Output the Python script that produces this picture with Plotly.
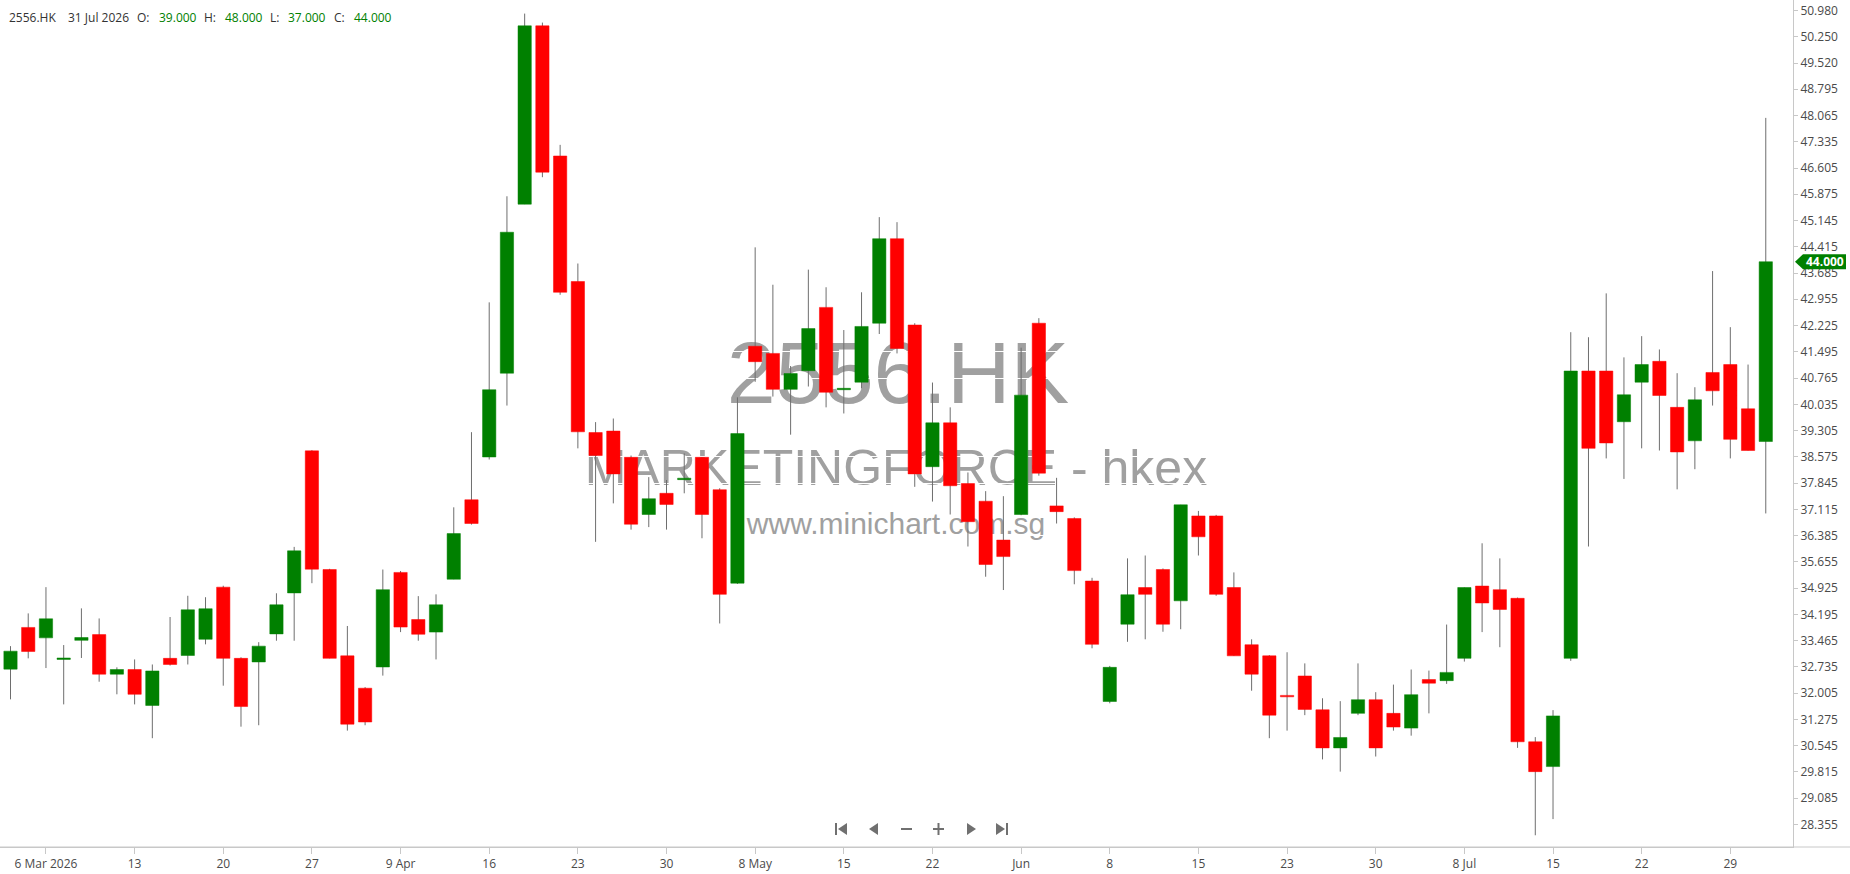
import plotly.graph_objects as go

# ---------------- data ----------------
opens = [32.67, 33.83, 33.54, 32.96, 33.47, 33.63, 32.53, 32.66, 31.66, 32.97,
         33.05, 33.50, 34.95, 32.97, 32.87, 33.65, 34.79, 38.74, 35.44, 33.04,
         32.14, 32.73, 35.36, 34.05, 33.70, 35.17, 37.38, 38.57, 40.90, 45.60,
         50.56, 46.94, 43.45, 39.25, 39.29, 38.56, 36.97, 37.56, 37.96, 38.56,
         37.66, 35.06, 41.65, 41.45, 40.45, 40.97, 42.73, 40.46, 40.65, 42.29,
         44.64, 42.24, 38.30, 39.52, 37.83, 37.34, 36.26, 36.97, 42.29, 37.21,
         36.86, 35.12, 31.77, 33.92, 34.94, 35.44, 34.57, 36.93, 36.93, 34.94,
         33.35, 33.04, 31.93, 32.48, 31.54, 30.48, 31.44, 31.82, 31.44, 31.03,
         32.38, 32.35, 32.97, 34.98, 34.88, 34.64, 30.65, 29.96, 32.97, 40.96,
         40.96, 39.55, 40.65, 41.23, 39.95, 39.02, 40.92, 41.14, 39.91, 39.00]
highs = [33.31, 34.22, 34.95, 33.34, 34.36, 34.08, 32.72, 32.94, 32.80, 34.12,
         34.71, 34.67, 34.99, 33.00, 33.42, 34.78, 36.07, 38.76, 35.46, 33.87,
         32.17, 35.44, 35.40, 34.70, 34.75, 37.17, 39.26, 42.87, 45.82, 50.90,
         50.65, 47.25, 43.95, 39.54, 39.64, 38.61, 38.01, 37.93, 38.67, 38.56,
         37.70, 40.23, 44.40, 43.36, 41.10, 43.78, 43.29, 42.10, 43.15, 45.24,
         45.10, 42.29, 40.64, 39.95, 38.14, 37.62, 37.48, 41.61, 42.43, 37.99,
         36.89, 35.21, 32.76, 35.75, 35.83, 35.47, 37.24, 37.07, 36.96, 35.36,
         33.50, 33.06, 33.14, 32.83, 31.86, 31.78, 32.83, 32.03, 32.24, 32.66,
         32.63, 33.91, 34.94, 36.17, 35.75, 34.66, 30.78, 31.53, 42.04, 41.90,
         43.12, 41.34, 41.93, 41.56, 40.90, 40.51, 43.74, 42.18, 41.14, 48.00]
lows = [31.83, 32.97, 32.70, 31.69, 32.98, 32.32, 31.97, 31.69, 30.75, 32.77,
        32.80, 33.36, 32.21, 31.07, 31.11, 33.46, 33.46, 35.06, 32.97, 30.96,
        31.11, 32.49, 33.70, 33.46, 32.94, 35.17, 36.69, 38.50, 40.00, 45.60,
        46.35, 43.08, 38.81, 36.21, 37.28, 36.55, 36.62, 36.55, 37.56, 36.31,
        33.94, 35.04, 40.66, 40.25, 39.19, 40.53, 39.95, 39.78, 40.48, 41.99,
        41.45, 37.74, 37.33, 36.97, 36.08, 35.24, 34.87, 36.95, 38.05, 36.72,
        35.03, 33.25, 31.72, 33.43, 33.50, 33.71, 33.78, 35.83, 34.71, 33.04,
        32.07, 30.75, 30.96, 31.39, 30.16, 29.82, 31.39, 30.24, 30.96, 30.82,
        31.44, 32.26, 32.88, 33.70, 33.28, 30.48, 28.05, 28.50, 32.90, 36.08,
        38.53, 37.96, 38.81, 38.75, 37.67, 38.23, 40.00, 38.53, 38.75, 37.00]
closes = [33.17, 33.16, 34.07, 32.96, 33.55, 32.53, 32.66, 31.97, 32.62, 32.80,
          34.32, 34.35, 32.97, 31.63, 33.31, 34.46, 35.96, 35.45, 32.97, 31.14,
          31.20, 34.88, 33.84, 33.64, 34.46, 36.44, 36.72, 40.44, 44.82, 50.56,
          46.49, 43.15, 39.27, 38.61, 38.10, 36.70, 37.41, 37.25, 37.96, 36.97,
          34.75, 39.22, 41.22, 40.45, 40.89, 42.14, 40.37, 40.46, 42.20, 44.64,
          41.59, 38.10, 39.52, 37.77, 36.77, 35.58, 35.80, 40.29, 38.12, 37.05,
          35.41, 33.36, 32.72, 34.74, 34.75, 33.92, 37.24, 36.35, 34.75, 33.04,
          32.53, 31.39, 31.91, 31.55, 30.48, 30.77, 31.82, 30.48, 31.06, 31.96,
          32.28, 32.58, 34.94, 34.51, 34.33, 30.65, 29.82, 31.37, 40.96, 38.81,
          38.96, 40.30, 41.14, 40.28, 38.71, 40.16, 40.41, 39.06, 38.75, 44.00]

x_tick_idx = [2, 7, 12, 17, 22, 27, 32, 37, 42, 47, 52, 57, 62, 67, 72, 77, 82, 87, 92, 97]
x_tick_text = ["6 Mar 2026", "13", "20", "27", "9 Apr", "16", "23", "30", "8 May", "15",
               "22", "Jun", "8", "15", "23", "30", "8 Jul", "15", "22", "29"]

price_ticks = [50.980, 50.250, 49.520, 48.795, 48.065, 47.335, 46.605, 45.875, 45.145,
               44.415, 43.685, 42.955, 42.225, 41.495, 40.765, 40.035, 39.305, 38.575,
               37.845, 37.115, 36.385, 35.655, 34.925, 34.195, 33.465, 32.735, 32.005,
               31.275, 30.545, 29.815, 29.085, 28.355]

symbol = "2556.HK"
last_date = "31 Jul 2026"
company = "MARKETINGFORCE - hkex"
site = "www.minichart.com.sg"

# ---------------- layout constants ----------------
W, H = 1850, 874
PW, PH = 1793, 847          # plot area in pixels
UP, DOWN = "#008000", "#ff0000"
WICK = "#6e6e6e"
TXT = "#4a4a4a"
FONT = "Open Sans"

x_range = [-0.592, 100.535]
y_range = [27.724, 51.278]


def X(px):  # pixel -> paper
    return px / PW


def Y(py):
    return 1 - py / PH


n = len(opens)
half = 0.375

# wicks
wx, wy = [], []
for i in range(n):
    wx += [i, i, None]
    wy += [lows[i], highs[i], None]

# bodies
bx = {True: [], False: []}
by = {True: [], False: []}
for i in range(n):
    up = closes[i] >= opens[i]
    lo, hi = min(opens[i], closes[i]), max(opens[i], closes[i])
    if hi - lo < 0.04:
        m = (hi + lo) / 2
        lo, hi = m - 0.02, m + 0.02
    bx[up] += [i - half, i + half, i + half, i - half, i - half, None]
    by[up] += [lo, lo, hi, hi, lo, None]

fig = go.Figure()
fig.add_trace(go.Scatter(x=wx, y=wy, mode="lines", line=dict(color=WICK, width=1),
                         hoverinfo="skip", showlegend=False))
for up, col in ((True, UP), (False, DOWN)):
    fig.add_trace(go.Scatter(x=bx[up], y=by[up], mode="lines", fill="toself",
                             fillcolor=col, line=dict(color=col, width=0.5),
                             hoverinfo="skip", showlegend=False))

shapes = []
# watermarks (below traces)
for txt, cx, cy, size in ((symbol, 898, 364, 88), (company, 896, 463, 50), (site, 896, 520, 30)):
    shapes.append(dict(type="rect", xref="paper", yref="paper", layer="below",
                       x0=X(cx - 400), x1=X(cx + 400), y0=Y(cy + 50), y1=Y(cy - 50),
                       line=dict(width=0), fillcolor="rgba(0,0,0,0)",
                       label=dict(text=txt, textposition="middle center",
                                  font=dict(size=size, color="#a0a0a0", family="Liberation Sans"))))

# axis line extension under price labels
shapes.append(dict(type="line", xref="paper", yref="paper", x0=0, x1=X(W), y0=0, y1=0,
                   line=dict(color="#c8c8c8", width=1)))

# last price marker
last = closes[-1]
hh = 7.5 / 35.96
shapes.append(dict(type="path", xref="paper", yref="y",
                   path=f"M {X(1795)},{last} L {X(1803)},{last + hh} L {X(1846)},{last + hh} "
                        f"L {X(1846)},{last - hh} L {X(1803)},{last - hh} Z",
                   fillcolor=UP, line=dict(width=0)))


# navigation icons
def rect(x0, y0, x1, y1):
    return f"M {X(x0)},{Y(y0)} L {X(x1)},{Y(y0)} L {X(x1)},{Y(y1)} L {X(x0)},{Y(y1)} Z"


def tri(xt, xb, yc, h):
    return f"M {X(xt)},{Y(yc)} L {X(xb)},{Y(yc - h)} L {X(xb)},{Y(yc + h)} Z"


ic = "#707070"
cy = 829
nav_paths = [
    rect(835, cy - 6, 837, cy + 6), tri(838, 847, cy, 6),
    tri(869, 878, cy, 6),
    rect(901, cy - 1, 912, cy + 1),
    rect(933, cy - 1, 944, cy + 1), rect(937.5, cy - 6, 939.5, cy + 6),
    tri(976, 967, cy, 6),
    tri(1005, 996, cy, 6), rect(1006, cy - 6, 1008, cy + 6),
]
for p in nav_paths:
    shapes.append(dict(type="path", xref="paper", yref="paper", path=p,
                       fillcolor=ic, line=dict(width=0)))

annotations = []
# header
hdr = [(symbol, 7, "#333333"), (last_date, 66, "#333333"),
       ("O:", 135, "#333333"), (f"{opens[-1]:.3f}", 157, UP),
       ("H:", 202, "#333333"), (f"{highs[-1]:.3f}", 223, UP),
       ("L:", 268, "#333333"), (f"{lows[-1]:.3f}", 286, UP),
       ("C:", 332, "#333333"), (f"{closes[-1]:.3f}", 352, UP)]
for t, px, col in hdr:
    annotations.append(dict(text=t, xref="paper", yref="paper", x=X(px), y=Y(18),
                            xanchor="left", yanchor="middle", showarrow=False,
                            font=dict(size=12, color=col, family=FONT)))
annotations.append(dict(text=f"{last:.3f}", xref="paper", yref="y", x=X(1825), y=last,
                        xanchor="center", yanchor="middle", showarrow=False,
                        font=dict(size=12, color="white", family=FONT, weight="bold")))

fig.update_layout(
    width=W, height=H,
    margin=dict(l=0, r=W - PW, t=0, b=H - PH, pad=0, autoexpand=False),
    paper_bgcolor="white", plot_bgcolor="white",
    showlegend=False, hovermode=False, dragmode=False,
    shapes=shapes, annotations=annotations,
    xaxis=dict(range=x_range, tickmode="array", tickvals=x_tick_idx, ticktext=x_tick_text,
               ticks="outside", ticklen=6, tickcolor="#c8c8c8", showgrid=False, zeroline=False,
               showline=True, linecolor="#c8c8c8", linewidth=1,
               tickfont=dict(size=12, color=TXT, family=FONT), fixedrange=True),
    yaxis=dict(range=y_range, side="right", tickmode="array", tickvals=price_ticks,
               ticktext=[f"{v:.3f}" for v in price_ticks], ticks="outside", ticklen=4,
               tickcolor="#c8c8c8", showgrid=True, gridcolor="white", gridwidth=1,
               zeroline=False, showline=True, linecolor="#c8c8c8", linewidth=1,
               tickfont=dict(size=12, color=TXT, family=FONT), fixedrange=True),
)

fig.write_html("out.html", config={"displayModeBar": False},
               post_script="document.body.style.margin='0';document.body.style.overflow='hidden';")
